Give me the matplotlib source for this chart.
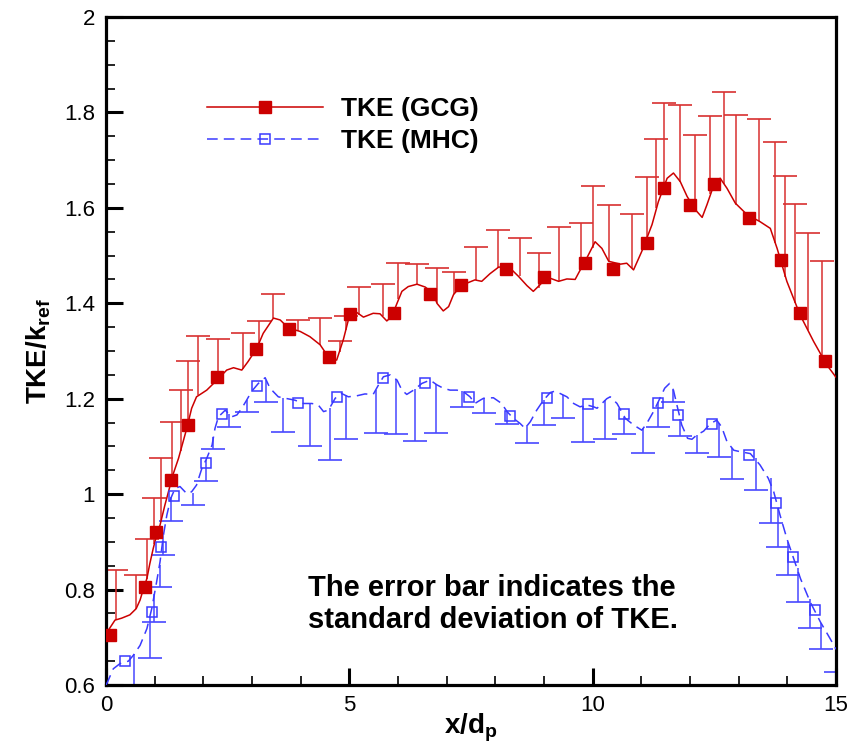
import numpy as np
import matplotlib
matplotlib.use("Agg")
import matplotlib.pyplot as plt
from matplotlib.ticker import MultipleLocator

plt.rcParams['font.family'] = ['Liberation Sans', 'DejaVu Sans']
plt.rcParams['mathtext.fontset'] = 'custom'
plt.rcParams['mathtext.rm'] = 'Liberation Sans'
plt.rcParams['mathtext.bf'] = 'Liberation Sans:bold'

# ---------------- data ----------------
gcg_curve_x = [0.00, 0.05, 0.185, 0.32, 0.49, 0.62, 0.70, 0.77, 0.84, 0.90, 0.97, 1.04, 1.11, 1.21,
               1.32, 1.35, 1.49, 1.66, 1.76, 1.86, 2.07, 2.28, 2.48, 2.62, 2.79, 2.92, 3.10, 3.23,
               3.44, 3.58, 3.75, 3.99, 4.19, 4.40, 4.60, 4.74, 4.88, 4.98, 5.15, 5.29, 5.49, 5.63,
               5.77, 5.87, 5.98, 6.08, 6.21, 6.39, 6.56, 6.73, 6.80, 6.93, 7.04, 7.14, 7.28, 7.41,
               7.58, 7.72, 7.89, 8.07, 8.30, 8.48, 8.65, 8.78, 8.92, 9.06, 9.30, 9.47, 9.64, 9.74,
               9.88, 10.05, 10.19, 10.33, 10.57, 10.70, 10.84, 11.01, 11.22, 11.35, 11.53, 11.66,
               11.80, 11.94, 12.11, 12.25, 12.35, 12.49, 12.62, 12.76, 12.93, 13.17, 13.44, 13.65,
               13.79, 13.99, 14.26, 14.54, 14.81, 15.00]
gcg_curve_y = [0.700, 0.715, 0.736, 0.740, 0.747, 0.760, 0.778, 0.802, 0.823, 0.854, 0.886, 0.914,
               0.935, 0.977, 1.019, 1.033, 1.075, 1.138, 1.180, 1.204, 1.218, 1.239, 1.260, 1.265,
               1.260, 1.278, 1.306, 1.337, 1.369, 1.365, 1.348, 1.341, 1.330, 1.313, 1.283, 1.281,
               1.325, 1.365, 1.381, 1.371, 1.379, 1.378, 1.363, 1.372, 1.400, 1.425, 1.435, 1.440,
               1.434, 1.420, 1.400, 1.384, 1.393, 1.418, 1.435, 1.442, 1.449, 1.446, 1.462, 1.476,
               1.474, 1.456, 1.437, 1.425, 1.439, 1.455, 1.446, 1.451, 1.450, 1.469, 1.495, 1.529,
               1.515, 1.488, 1.482, 1.484, 1.470, 1.509, 1.565, 1.613, 1.662, 1.673, 1.655, 1.624,
               1.596, 1.580, 1.607, 1.648, 1.662, 1.641, 1.610, 1.586, 1.571, 1.557, 1.515, 1.446,
               1.376, 1.320, 1.271, 1.245]

gcg_mark_x = [0.08, 0.80, 1.03, 1.34, 1.69, 2.29, 3.09, 3.75, 4.59, 5.02, 5.91, 6.65, 7.30, 8.22,
              9.01, 9.85, 10.41, 11.11, 11.46, 12.01, 12.50, 13.21, 13.87, 14.26, 14.77]
gcg_mark_y = [0.704, 0.805, 0.920, 1.030, 1.145, 1.245, 1.304, 1.346, 1.288, 1.378, 1.380, 1.420,
              1.439, 1.472, 1.455, 1.484, 1.472, 1.527, 1.642, 1.606, 1.651, 1.579, 1.491, 1.380,
              1.279]

gcg_err_x = [0.20, 0.62, 0.84, 0.99, 1.14, 1.35, 1.54, 1.69, 1.90, 2.30, 2.81, 3.14, 3.44, 3.94,
             4.40, 4.80, 4.93, 5.20, 5.70, 6.01, 6.40, 6.80, 7.15, 7.60, 8.05, 8.50, 8.90, 9.30,
             9.76, 10.00, 10.33, 10.81, 11.11, 11.31, 11.46, 11.80, 12.11, 12.42, 12.70, 12.95,
             13.41, 13.75, 13.96, 14.16, 14.42, 14.71]
gcg_err_lo = [0.737, 0.760, 0.823, 0.895, 0.945, 1.033, 1.090, 1.150, 1.207, 1.241, 1.262, 1.315,
              1.369, 1.342, 1.313, 1.298, 1.345, 1.375, 1.373, 1.410, 1.439, 1.400, 1.420, 1.449,
              1.474, 1.458, 1.432, 1.446, 1.470, 1.515, 1.488, 1.473, 1.535, 1.600, 1.645, 1.655,
              1.596, 1.630, 1.650, 1.607, 1.573, 1.527, 1.456, 1.400, 1.345, 1.290]
gcg_err_hi = [0.840, 0.830, 0.907, 0.991, 1.076, 1.151, 1.218, 1.278, 1.332, 1.326, 1.338, 1.362,
              1.420, 1.365, 1.369, 1.322, 1.374, 1.435, 1.440, 1.484, 1.483, 1.473, 1.465, 1.518,
              1.554, 1.536, 1.505, 1.559, 1.568, 1.646, 1.605, 1.588, 1.664, 1.744, 1.820, 1.816,
              1.753, 1.793, 1.843, 1.795, 1.786, 1.737, 1.667, 1.608, 1.547, 1.489]

mhc_curve_x = [0.00, 0.03, 0.15, 0.29, 0.46, 0.56, 0.70, 0.84, 0.94, 1.04, 1.11, 1.18, 1.25, 1.33,
               1.42, 1.52, 1.66, 1.76, 1.86, 1.97, 2.07, 2.18, 2.24, 2.31, 2.45, 2.58, 2.69, 2.79,
               2.89, 2.99, 3.13, 3.27, 3.37, 3.54, 3.68, 3.88, 4.06, 4.23, 4.36, 4.47, 4.57, 4.71,
               4.84, 4.98, 5.15, 5.32, 5.49, 5.60, 5.70, 5.84, 5.98, 6.08, 6.18, 6.32, 6.49, 6.66,
               6.80, 6.93, 7.07, 7.21, 7.34, 7.48, 7.58, 7.69, 7.76, 7.96, 8.13, 8.24, 8.37, 8.51,
               8.61, 8.72, 8.85, 8.99, 9.13, 9.23, 9.33, 9.47, 9.61, 9.74, 9.88, 10.02, 10.09, 10.19,
               10.29, 10.36, 10.50, 10.67, 10.84, 11.01, 11.11, 11.25, 11.35, 11.48, 11.58, 11.66,
               11.74, 11.83, 11.95, 12.04, 12.14, 12.28, 12.42, 12.55, 12.65, 12.76, 12.90, 13.03,
               13.24, 13.44, 13.61, 13.72, 13.85, 13.99, 14.13, 14.27, 14.47, 14.68, 14.88, 15.00]
mhc_curve_y = [0.600, 0.606, 0.634, 0.645, 0.650, 0.662, 0.683, 0.718, 0.760, 0.816, 0.858, 0.914,
               0.956, 0.991, 1.012, 1.016, 1.001, 1.005, 1.019, 1.054, 1.075, 1.103, 1.138, 1.162,
               1.176, 1.162, 1.166, 1.180, 1.197, 1.215, 1.232, 1.244, 1.222, 1.204, 1.201, 1.197,
               1.190, 1.190, 1.187, 1.173, 1.176, 1.201, 1.211, 1.204, 1.206, 1.210, 1.209, 1.229,
               1.246, 1.250, 1.239, 1.218, 1.209, 1.218, 1.232, 1.239, 1.229, 1.222, 1.218, 1.218,
               1.215, 1.204, 1.190, 1.197, 1.201, 1.202, 1.190, 1.173, 1.159, 1.148, 1.138, 1.152,
               1.176, 1.197, 1.213, 1.216, 1.211, 1.204, 1.190, 1.183, 1.187, 1.183, 1.180, 1.190,
               1.200, 1.204, 1.190, 1.159, 1.145, 1.134, 1.148, 1.173, 1.194, 1.222, 1.232, 1.218,
               1.183, 1.145, 1.117, 1.115, 1.124, 1.132, 1.148, 1.155, 1.141, 1.110, 1.092, 1.089,
               1.085, 1.061, 1.033, 1.005, 0.956, 0.907, 0.865, 0.823, 0.774, 0.732, 0.697, 0.675]

mhc_mark_x = [0.39, 0.94, 1.14, 1.40, 2.05, 2.39, 3.10, 3.95, 4.75, 5.70, 6.56, 7.45, 8.30, 9.06,
              9.90, 10.65, 11.35, 11.76, 12.46, 13.21, 13.77, 14.11, 14.56]
mhc_mark_y = [0.650, 0.753, 0.889, 0.996, 1.066, 1.167, 1.227, 1.190, 1.204, 1.243, 1.232, 1.203,
              1.164, 1.201, 1.189, 1.167, 1.192, 1.166, 1.148, 1.083, 0.982, 0.868, 0.758]

mhc_err_x = [0.58, 0.90, 0.99, 1.10, 1.18, 1.34, 1.79, 2.05, 2.19, 2.53, 2.89, 3.29, 3.64, 4.19,
             4.60, 4.93, 5.55, 5.95, 6.35, 6.79, 7.31, 7.76, 8.24, 8.66, 9.00, 9.40, 9.81, 10.26,
             10.65, 11.04, 11.35, 11.66, 11.80, 12.15, 12.59, 12.86, 13.35, 13.66, 13.80, 14.01,
             14.21, 14.46, 14.70, 14.99]
mhc_err_hi = [0.665, 0.743, 0.790, 0.852, 0.914, 0.993, 1.003, 1.071, 1.120, 1.168, 1.197, 1.240,
              1.202, 1.190, 1.180, 1.207, 1.218, 1.242, 1.220, 1.230, 1.216, 1.201, 1.173, 1.145,
              1.198, 1.208, 1.185, 1.197, 1.162, 1.138, 1.194, 1.218, 1.158, 1.125, 1.150, 1.097,
              1.076, 1.033, 0.970, 0.900, 0.845, 0.780, 0.730, 0.678]
mhc_err_lo = [0.550, 0.656, 0.731, 0.806, 0.873, 0.943, 0.978, 1.027, 1.094, 1.140, 1.173, 1.194,
              1.131, 1.101, 1.071, 1.115, 1.129, 1.127, 1.111, 1.129, 1.183, 1.171, 1.148, 1.108,
              1.145, 1.160, 1.110, 1.115, 1.126, 1.087, 1.141, 1.194, 1.122, 1.087, 1.078, 1.031,
              1.008, 0.940, 0.889, 0.830, 0.775, 0.720, 0.675, 0.628]

x_ticks = [0, 5, 10, 15]
y_ticks = [0.6, 0.8, 1.0, 1.2, 1.4, 1.6, 1.8, 2.0]
y_tick_labels = ['0.6', '0.8', '1', '1.2', '1.4', '1.6', '1.8', '2']

# ---------------- styling ----------------
red = '#cc0000'
red_bar = '#d83030'
blue = '#3a3aff'
blue_bar = '#4848ff'

fig = plt.figure(figsize=(8.51, 7.54), dpi=100)
ax = fig.add_axes([106/851, 1 - 685/754, 730/851, 668/754])

# error bars
ax.vlines(gcg_err_x, gcg_err_lo, gcg_err_hi, color=red_bar, lw=1.1, zorder=2)
ax.plot(gcg_err_x, gcg_err_hi, ls='none', marker='_', ms=17, mew=1.2, color=red_bar, zorder=2)
ax.vlines(mhc_err_x, mhc_err_lo, mhc_err_hi, color=blue_bar, lw=1.1, zorder=2)
ax.plot(mhc_err_x, mhc_err_lo, ls='none', marker='_', ms=17, mew=1.2, color=blue_bar, zorder=2)

# curves
ax.plot(gcg_curve_x, gcg_curve_y, color=red, lw=1.1, zorder=3)
ax.plot(mhc_curve_x, mhc_curve_y, color=blue, lw=1.1, ls=(0, (7, 4)), zorder=3)

# markers
ax.plot(gcg_mark_x, gcg_mark_y, ls='none', marker='s', ms=8, mfc=red, mec=red, zorder=4)
ax.plot(mhc_mark_x, mhc_mark_y, ls='none', marker='s', ms=7.2, mfc='none', mec=blue, mew=1.1,
        zorder=4)

# legend handles
h1, = ax.plot([], [], color=red, lw=1.1, marker='s', ms=8, mfc=red, mec=red)
h2, = ax.plot([], [], color=blue, lw=1.1, ls=(0, (7, 4)), marker='s', ms=7.2, mfc='none',
              mec=blue, mew=1.1)
leg = ax.legend([h1, h2], ['TKE (GCG)', 'TKE (MHC)'], loc='center left',
                bbox_to_anchor=(0.138, 0.838), frameon=False, numpoints=1,
                handlelength=4.4, handletextpad=0.7, labelspacing=0.32, borderpad=0,
                borderaxespad=0, prop={'weight': 'bold', 'size': 19})

ax.text(4.15, 0.77, 'The error bar indicates the\nstandard deviation of TKE.',
        fontsize=21, fontweight='bold', ha='left', va='center', linespacing=1.15)

ax.set_xlim(0, 15)
ax.set_ylim(0.6, 2.0)
ax.set_xticks(x_ticks)
ax.set_yticks(y_ticks)
ax.set_yticklabels(y_tick_labels)
ax.xaxis.set_minor_locator(MultipleLocator(1))
ax.yaxis.set_minor_locator(MultipleLocator(0.05))
ax.tick_params(which='major', direction='in', length=12, width=2.2, labelsize=16, pad=7)
ax.tick_params(which='minor', direction='in', length=6.5, width=1.2)
ax.tick_params(axis='y', which='major', pad=8)
for s in ax.spines.values():
    s.set_linewidth(2.3)

ax.set_xlabel('x/d$_\\mathbf{p}$', fontsize=20, fontweight='bold', labelpad=-3)
ax.set_ylabel('TKE/k$_\\mathbf{ref}$', fontsize=20, fontweight='bold', labelpad=8)

fig.savefig('out.png', dpi=100)
